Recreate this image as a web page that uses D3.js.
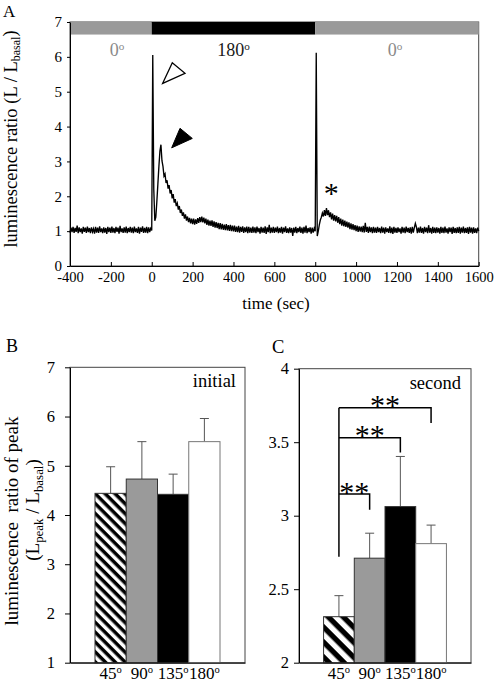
<!DOCTYPE html>
<html><head><meta charset="utf-8">
<script src="https://cdn.jsdelivr.net/npm/d3@7"></script>
<style>
body{margin:0;background:#fff}
svg{display:block}
text{font-family:"Liberation Serif","Times New Roman",serif}
</style>
</head><body><svg id="c" width="498" height="683"></svg>
<script>
// ---------- DATA ----------
// Panel A: luminescence ratio trace, one value every 5 s starting at -400 s
const traceStart = -400, traceStep = 5;
const lumValues = [
 0.96,1.10,0.97,1.12,0.95,1.09,0.98,1.16,0.94,1.11,0.97,1.08,0.93,1.12,0.98,1.10,0.95,1.13,0.97,1.09,
 0.94,1.11,0.98,1.07,0.93,1.12,0.96,1.10,0.95,1.14,0.97,1.08,0.94,1.11,0.96,1.09,0.92,1.12,0.97,1.10,
 0.95,1.13,0.96,1.09,0.94,1.12,0.98,1.10,0.93,1.15,0.97,1.08,0.95,1.11,0.96,1.13,0.94,1.09,0.97,1.12,
 0.96,1.10,0.94,1.13,0.97,1.08,0.95,1.12,0.93,1.10,0.98,1.14,0.95,1.09,0.96,1.12,0.94,1.11,0.97,1.08,
 1.02,6.05,2.20,1.30,1.40,1.85,2.35,2.85,3.30,3.48,3.02,2.86,2.58,2.64,2.38,2.46,2.22,2.32,2.08,2.18,
 1.94,2.06,1.82,1.92,1.72,1.80,1.62,1.72,1.52,1.62,1.44,1.54,1.36,1.48,1.30,1.42,1.26,1.38,1.22,1.36,
 1.20,1.36,1.19,1.34,1.21,1.37,1.24,1.40,1.26,1.42,1.25,1.39,1.22,1.36,1.18,1.33,1.16,1.30,1.15,1.31,
 1.12,1.28,1.10,1.26,1.09,1.24,1.06,1.23,1.05,1.21,1.04,1.19,1.03,1.20,1.02,1.17,1.01,1.18,1.00,1.16,
 0.99,1.16,0.98,1.13,0.97,1.15,0.96,1.12,0.98,1.14,0.95,1.11,0.97,1.13,0.94,1.12,0.96,1.10,0.95,1.13,
 0.96,1.11,0.94,1.13,0.97,1.09,0.93,1.12,0.96,1.10,0.95,1.14,0.92,1.11,0.97,1.18,0.94,1.10,0.96,1.12,
 0.95,1.10,0.97,1.13,0.94,1.09,0.96,1.12,0.93,1.10,0.97,1.14,0.95,1.08,0.94,1.11,0.96,1.09,0.86,1.10,
 0.96,1.12,0.94,1.09,0.97,1.13,0.95,1.10,0.93,1.12,0.96,1.16,0.94,1.09,0.97,1.11,0.93,1.10,0.96,1.08,
 1.00,6.12,0.86,1.00,1.18,1.32,1.40,1.52,1.42,1.60,1.44,1.66,1.46,1.60,1.40,1.54,1.34,1.50,1.30,1.46,
 1.28,1.44,1.24,1.40,1.20,1.36,1.16,1.33,1.14,1.30,1.12,1.27,1.10,1.25,1.06,1.22,1.04,1.20,1.03,1.17,
 1.00,1.16,0.98,1.14,0.99,1.13,0.97,1.15,0.96,1.24,0.98,1.12,0.95,1.13,0.97,1.11,0.94,1.12,0.96,1.10,
 0.95,1.12,0.97,1.09,0.94,1.13,0.96,1.10,0.93,1.11,0.97,1.08,0.95,1.14,0.94,1.10,0.92,1.12,0.96,1.09,
 0.95,1.11,0.97,1.08,0.93,1.12,0.96,1.10,0.94,1.13,0.97,1.09,0.95,1.11,0.93,1.12,0.96,1.10,1.22,1.12,
 0.94,1.10,0.96,1.13,0.95,1.09,0.93,1.12,0.97,1.10,0.94,1.17,0.96,1.09,0.93,1.12,0.95,1.10,0.94,1.11,
 0.96,1.09,0.93,1.12,0.95,1.10,0.94,1.13,0.96,1.08,0.93,1.11,0.97,1.10,0.92,1.12,0.95,1.09,0.94,1.11,
 0.95,1.12,0.93,1.10,0.96,1.13,0.94,1.09,0.95,1.11,0.92,1.12,0.96,1.10,0.93,1.11,0.95,1.08,0.94,1.10,
 1.00
];
const phaseFrom   = [-400, 0, 800];
const phaseTo     = [0, 800, 1600];
const phaseAngle  = ["0", "180", "0"];
const phaseColor  = ["#9a9a9a", "#000000", "#9a9a9a"];
const phaseTextColor = ["#8a8a8a", "#1a1a1a", "#8a8a8a"];
const phaseLabelT = [-170, 400, 1190];
const xTicksA = [-400,-200,0,200,400,600,800,1000,1200,1400,1600];
const yTicksA = [0,1,2,3,4,5,6,7];
// annotation markers (data units: time, ratio)
const openArrow   = [[53.6,5.24],[100.6,5.83],[162.7,5.53]];
const filledArrow = [[97.6,3.39],[138.3,3.95],[198.5,3.66]];
const starMark    = [879, 1.81];

// Panels B/C
const angleCats    = ["45","90","135","180"];
const initialPeak  = [4.44, 4.73, 4.42, 5.49];
const initialErr   = [0.54, 0.76, 0.41, 0.47];
const secondPeak   = [2.313, 2.711, 3.062, 2.810];
const secondErr    = [0.143, 0.170, 0.341, 0.126];
const yTicksB = [1,2,3,4,5,6,7];
const yTicksC = [2,2.5,3,3.5,4];
const bracketFrom  = "45";
const bracketTo    = ["90","135","180"];
const bracketTop   = [3.147, 3.530, 3.735];
const bracketDrop  = [3.040, 3.430, 3.630];
const bracketBase  = 2.72;
const bracketLabel = ["**","**","**"];

// ---------- DRAW ----------
const svg = d3.select("#c");
const defs = svg.append("defs");
function hatch(id, period){
  const p = defs.append("pattern").attr("id",id).attr("patternUnits","userSpaceOnUse")
    .attr("width",period).attr("height",period).attr("patternTransform","rotate(45)");
  p.append("rect").attr("width",period).attr("height",period).attr("fill","#fff");
  p.append("rect").attr("width",period).attr("height",period/2).attr("fill","#000");
}
hatch("hatchB", 7.0);
hatch("hatchC", 10.6);
const barFill = ["url(#hatch)","#9a9a9a","#000","#fff"];

function styleAxis(g, size){
  g.attr("font-family",'"Liberation Serif","Times New Roman",serif').attr("font-size",size);
  g.selectAll(".tick text").attr("fill","#000");
  g.selectAll("path,line").attr("stroke","#000");
}
function degText(sel, base){
  sel.text(null);
  sel.append("tspan").text(base);
  sel.append("tspan").attr("font-size","0.62em").attr("dy","-0.55em").text("o");
}

// ----- Panel A -----
const xA = d3.scaleLinear().domain([-400,1600]).range([70,478.7]);
const yA = d3.scaleLinear().domain([0,7]).range([266,22]);

svg.append("rect").attr("x",xA(-400)).attr("y",yA(7)).attr("width",xA(1600)-xA(-400))
  .attr("height",yA(0)-yA(7)).attr("fill","none").attr("stroke","#444").attr("stroke-width",1);

svg.append("g").selectAll("rect").data(phaseFrom).join("rect")
  .attr("x",(d)=>xA(d)).attr("y",yA(7))
  .attr("width",(d,i)=>xA(phaseTo[i])-xA(d)).attr("height",yA(6.64)-yA(7))
  .attr("fill",(d,i)=>phaseColor[i]);

svg.append("g").selectAll("text").data(phaseLabelT).join("text")
  .attr("x",d=>xA(d)).attr("y",yA(6.02)).attr("text-anchor","middle")
  .attr("font-size",18).attr("fill",(d,i)=>phaseTextColor[i])
  .each(function(d,i){ degText(d3.select(this), phaseAngle[i]); });

const line = d3.line().x((d,i)=>xA(traceStart+i*traceStep)).y(d=>yA(d));
svg.append("path").datum(lumValues).attr("d",line).attr("fill","none")
  .attr("stroke","#000").attr("stroke-width",1.35).attr("stroke-linejoin","miter");

const gxA = svg.append("g").attr("transform",`translate(0,${yA(0)})`)
  .call(d3.axisBottom(xA).tickValues(xTicksA).tickSizeInner(-4).tickSizeOuter(0).tickPadding(6).tickFormat(d=>String(d)));
styleAxis(gxA,14.5);
const gyA = svg.append("g").attr("transform",`translate(${xA(-400)},0)`)
  .call(d3.axisLeft(yA).tickValues(yTicksA).tickSizeInner(3).tickSizeOuter(0).tickPadding(5).tickFormat(d=>String(d)));
styleAxis(gyA,15);

const arrowLine = d3.line().x(d=>xA(d[0])).y(d=>yA(d[1])).curve(d3.curveLinearClosed);
svg.append("path").attr("d",arrowLine(openArrow)).attr("fill","#fff").attr("stroke","#000").attr("stroke-width",1.3);
svg.append("path").attr("d",arrowLine(filledArrow)).attr("fill","#000").attr("stroke","#000").attr("stroke-width",1);
svg.append("text").attr("x",xA(starMark[0])).attr("y",yA(starMark[1])).attr("text-anchor","middle")
  .attr("font-size",30).attr("fill","#000").text("*");

svg.append("text").attr("x",276).attr("y",309).attr("text-anchor","middle").attr("font-size",17).text("time (sec)");
const tA = svg.append("text").attr("transform","translate(16.5,139) rotate(-90)").attr("text-anchor","middle").attr("font-size",18.5);
tA.append("tspan").text("luminescence ratio (L / L");
tA.append("tspan").attr("font-size","0.65em").attr("dy","0.3em").text("basal");
tA.append("tspan").attr("dy","-0.2em").text(")");
svg.append("text").attr("x",3).attr("y",17).attr("font-size",17).text("A");

// ----- bar panels -----
function barPanel(opt){
  const {left,right,top,bottom,domain,ticks,peaks,errs,hatchId,tickPad,label,labelRight,labelY} = opt;
  const x = d3.scaleBand().domain(angleCats).range([left,right]).paddingInner(0).paddingOuter(0.8);
  const y = d3.scaleLinear().domain(domain).range([bottom,top]);
  svg.append("rect").attr("x",left).attr("y",top).attr("width",right-left).attr("height",bottom-top)
    .attr("fill","none").attr("stroke","#444").attr("stroke-width",1);
  // error bars
  const eg = svg.append("g").attr("stroke","#555").attr("stroke-width",1);
  angleCats.forEach((c,i)=>{
    const cx = x(c)+x.bandwidth()/2;
    eg.append("line").attr("x1",cx).attr("x2",cx).attr("y1",y(peaks[i])).attr("y2",y(peaks[i]+errs[i]));
    eg.append("line").attr("x1",cx-4.5).attr("x2",cx+4.5).attr("y1",y(peaks[i]+errs[i])).attr("y2",y(peaks[i]+errs[i]));
  });
  svg.append("g").selectAll("rect").data(peaks).join("rect")
    .attr("x",(d,i)=>x(angleCats[i])).attr("width",x.bandwidth())
    .attr("y",d=>y(d)).attr("height",d=>y(domain[0])-y(d))
    .attr("fill",(d,i)=> i===0 ? `url(#${hatchId})` : barFill[i])
    .attr("stroke",(d,i)=> i===3 ? "#777" : "#333").attr("stroke-width",1);
  const gy = svg.append("g").attr("transform",`translate(${left},0)`)
    .call(d3.axisLeft(y).tickValues(ticks).tickSizeInner(5).tickSizeOuter(0).tickPadding(tickPad).tickFormat(d=>String(d)));
  styleAxis(gy,16.5);
  const gx = svg.append("g").attr("transform",`translate(0,${bottom})`)
    .call(d3.axisBottom(x).tickSize(0).tickPadding(4));
  styleAxis(gx,17);
  gx.selectAll(".tick text").each(function(d){ degText(d3.select(this), d); });
  svg.append("text").attr("x",labelRight).attr("y",labelY).attr("text-anchor","end").attr("font-size",18.5).text(label);
  return {x,y};
}

const B = barPanel({left:70,right:245,top:367.3,bottom:662.7,domain:[1,7],ticks:yTicksB,
  peaks:initialPeak,errs:initialErr,hatchId:"hatchB",tickPad:10,label:"initial",labelRight:236,labelY:387});
const C = barPanel({left:299,right:471,top:368.7,bottom:662.7,domain:[2,4],ticks:yTicksC,
  peaks:secondPeak,errs:secondErr,hatchId:"hatchC",tickPad:5,label:"second",labelRight:461,labelY:389});

// brackets in C
const bx0 = C.x(bracketFrom)+C.x.bandwidth()/2;
const bg = svg.append("g").attr("stroke","#000").attr("stroke-width",1.5).attr("fill","none");
bg.append("line").attr("x1",bx0).attr("x2",bx0).attr("y1",C.y(bracketBase)).attr("y2",C.y(d3.max(bracketTop)));
bracketTo.forEach((c,i)=>{
  const bx1 = C.x(c)+C.x.bandwidth()/2;
  bg.append("path").attr("d",`M${bx0},${C.y(bracketTop[i])}H${bx1}V${C.y(bracketDrop[i])}`);
  svg.append("text").attr("x",(bx0+bx1)/2).attr("y",C.y(bracketTop[i])+7.5).attr("text-anchor","middle")
    .attr("font-size",30).attr("fill","#000").text(bracketLabel[i]);
});

// titles B
const tB1 = svg.append("text").attr("transform","translate(17.5,521) rotate(-90)").attr("text-anchor","middle").attr("font-size",19);
tB1.text("luminescence\u00a0\u00a0ratio of peak");
const tB2 = svg.append("text").attr("transform","translate(39,510) rotate(-90)").attr("text-anchor","middle").attr("font-size",19);
tB2.append("tspan").text("(L");
tB2.append("tspan").attr("font-size","0.68em").attr("dy","0.3em").text("peak");
tB2.append("tspan").attr("dy","-0.2em").text(" / L");
tB2.append("tspan").attr("font-size","0.68em").attr("dy","0.3em").text("basal");
tB2.append("tspan").attr("dy","-0.2em").text(")");

svg.append("text").attr("x",6).attr("y",352).attr("font-size",18).text("B");
svg.append("text").attr("x",272).attr("y",353).attr("font-size",18.5).text("C");
</script>
</body></html>
